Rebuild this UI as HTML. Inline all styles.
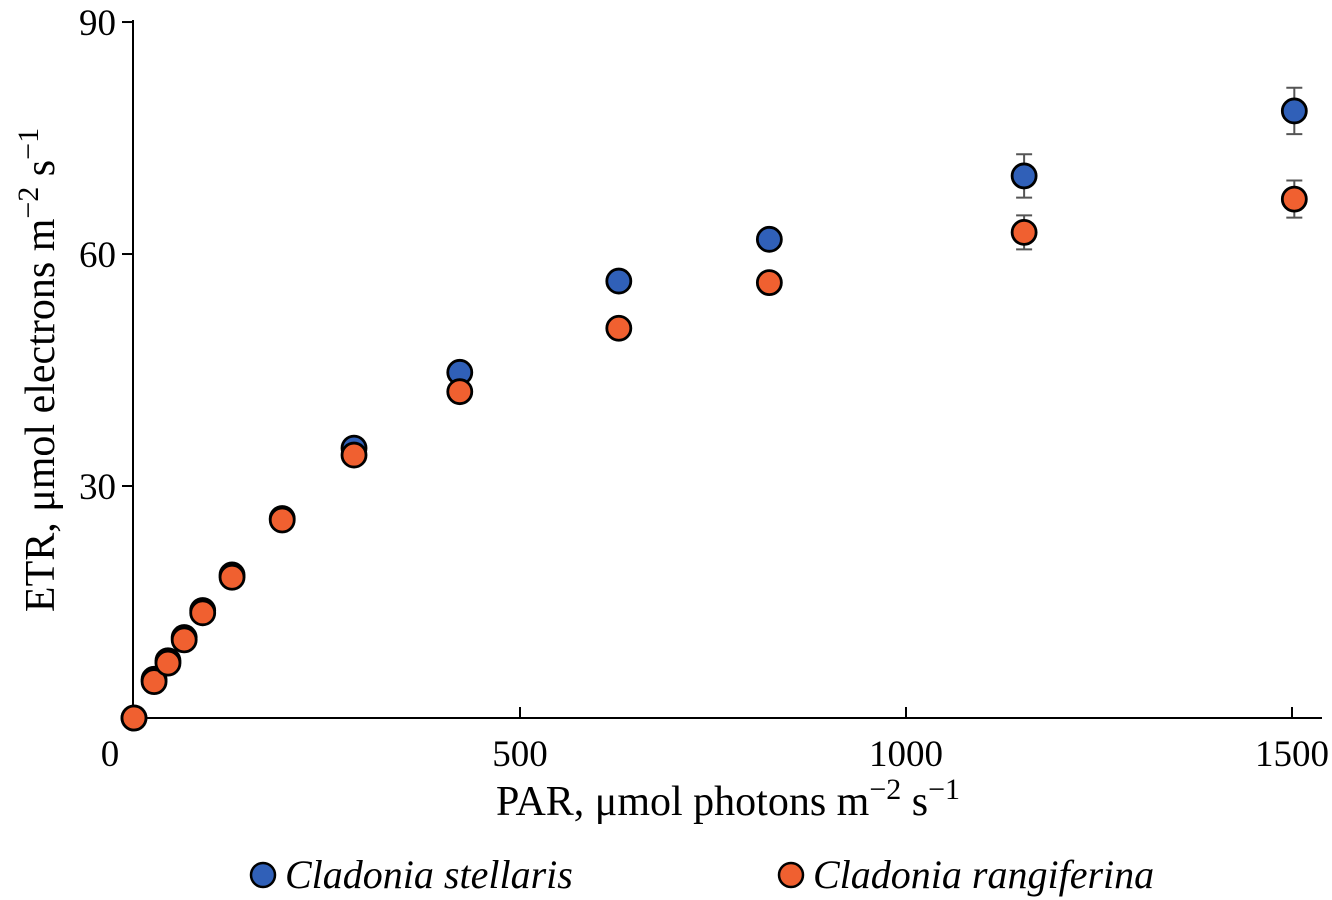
<!DOCTYPE html>
<html><head><meta charset="utf-8"><style>
html,body{margin:0;padding:0;background:#fff;}
svg{display:block;font-family:"Liberation Serif",serif;}
</style></head><body>
<svg id="chart" width="1332" height="900" viewBox="0 0 1332 900">
<g id="axes"></g>
<g id="marks"></g>
<text x="0" y="0" transform="translate(54,370) rotate(-90)" text-anchor="middle" font-size="42">ETR, μmol electrons m<tspan dy="-16" font-size="30">−2</tspan><tspan dy="16"> s</tspan><tspan dy="-16" font-size="30">−1</tspan></text>
<text x="728" y="815" text-anchor="middle" font-size="42">PAR, μmol photons m<tspan dy="-16" font-size="30">−2</tspan><tspan dy="16"> s</tspan><tspan dy="-16" font-size="30">−1</tspan></text>
<g>
<circle cx="263" cy="875" r="12" fill="#3060b8" stroke="#000" stroke-width="2.5"/>
<text x="285" y="888" font-size="40" font-style="italic">Cladonia stellaris</text>
<circle cx="791" cy="875" r="12" fill="#f06030" stroke="#000" stroke-width="2.5"/>
<text x="813" y="888" font-size="40" font-style="italic">Cladonia rangiferina</text>
</g>
</svg>
<script>
const par = [0, 26, 44, 65, 89, 127, 192, 285, 422, 628, 823, 1153, 1503];
const stellaris = [0, 5.0, 7.4, 10.4, 13.9, 18.5, 25.8, 34.9, 44.7, 56.5, 61.9, 70.1, 78.5];
const stellarisErr = [0, 0, 0, 0, 0, 0, 0, 0, 0, 0, 0, 2.8, 3.0];
const rangiferina = [0, 4.7, 7.1, 10.1, 13.6, 18.2, 25.6, 34.0, 42.2, 50.4, 56.3, 62.8, 67.1];
const rangiferinaErr = [0, 0, 0, 0, 0, 0, 0, 0, 0, 0, 0, 2.2, 2.4];
const xTicks = [0, 500, 1000, 1500];
const yTicks = [30, 60, 90];

const NS = "http://www.w3.org/2000/svg";
function xs(v){ return 134 + v * 0.772; }
function ys(v){ return 718 - v * 7.733; }
function mk(tag, attrs, parent){
  const e = document.createElementNS(NS, tag);
  for (const k in attrs) e.setAttribute(k, attrs[k]);
  parent.appendChild(e); return e;
}
const axes = document.getElementById('axes');
let l = mk('line',{x1:133,y1:20,x2:133,y2:718,stroke:'#000','stroke-width':2},axes);


l = mk('line',{x1:133,y1:718,x2:1322,y2:718,stroke:'#000','stroke-width':2},axes);


yTicks.forEach(t=>{
  const y = ys(t);
  const tk = mk('line',{x1:122,y1:y,x2:133,y2:y,stroke:'#000','stroke-width':2},axes);
  
  
  const tx = mk('text',{x:116,y:y+13,'text-anchor':'end','font-size':37},axes);
  tx.textContent = t;
  
  
});
xTicks.forEach(t=>{
  const x = xs(t);
  if (t>0){
    const tk = mk('line',{x1:x,y1:718,x2:x,y2:707,stroke:'#000','stroke-width':2},axes);
    
    
  }
  const tx = mk('text',{x:t===0?110:x,y:766,'text-anchor':'middle','font-size':37},axes);
  tx.textContent = t;
  
  
});
const marks = document.getElementById('marks');
function series(vals, errs, color, name){
  const g = mk('g',{},marks);
  
  
  vals.forEach((v,i)=>{
    const cx = xs(par[i]), cy = ys(v);
    if (errs[i] > 0){
      const y1 = ys(v+errs[i]), y2 = ys(v-errs[i]);
      const eb = mk('path',{d:`M${cx},${y1}V${y2}M${cx-8},${y1}H${cx+8}M${cx-8},${y2}H${cx+8}`,stroke:'#555','stroke-width':2,fill:'none'},g);
      
      
    }
    const c = mk('circle',{cx:cx,cy:cy,r:12,fill:color,stroke:'#000','stroke-width':2.8},g);
    
    
  });
}
series(stellaris, stellarisErr, '#3060b8', 'stellaris');
series(rangiferina, rangiferinaErr, '#f06030', 'rangiferina');
</script>
</body></html>
